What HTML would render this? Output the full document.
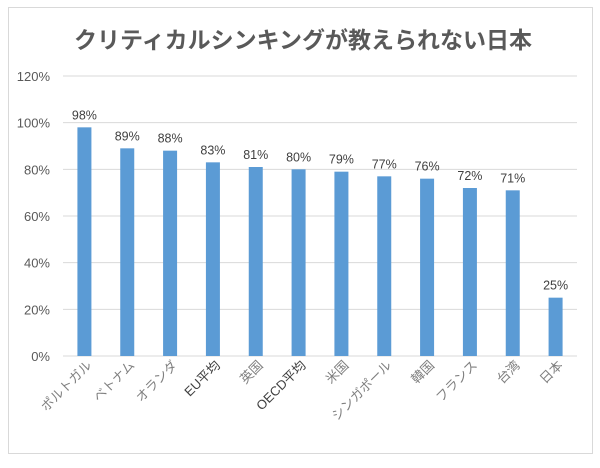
<!DOCTYPE html>
<html><head><meta charset="utf-8"><style>
body{margin:0;background:#fff}
svg text{font-family:"Liberation Sans","Noto Sans CJK JP",sans-serif}
</style></head><body>
<svg id="c" width="600" height="463">
<rect x="8.5" y="7.5" width="584" height="446" fill="#fff" stroke="#d9d9d9"/>
<text x="303" y="48" text-anchor="middle" font-size="23" fill="#595959" font-weight="bold">クリティカルシンキングが教えられない日本</text>
<g id="g"></g>
</svg>
<script>
const categories=["ポルトガル","ベトナム","オランダ","EU平均","英国","OECD平均","米国","シンガポール","韓国","フランス","台湾","日本"];
const values=[98,89,88,83,81,80,79,77,76,72,71,25];
const ticks=[0,20,40,60,80,100,120];
const NS="http://www.w3.org/2000/svg";
const g=document.getElementById("g");
const x0=63,x1=577,y0=356,y1=76,ymax=120;
const band=(x1-x0)/categories.length;
const y=v=>y0-(v/ymax)*(y0-y1);
const xc=i=>x0+band*(i+0.5);
function mk(t,a){const e=document.createElementNS(NS,t);for(const k in a)e.setAttribute(k,a[k]);g.appendChild(e);return e;}
ticks.forEach(t=>{
 const l=mk("line",{x1:x0,x2:x1,y1:y(t),y2:y(t),stroke:"#d9d9d9","stroke-width":1});
 
 
 const tx=mk("text",{x:50,y:y(t)+5,"text-anchor":"end","font-size":13,fill:"#595959"});
 tx.textContent=t+"%";
 
 
});
values.forEach((v,i)=>{
 const r=mk("rect",{x:xc(i)-7,y:y(v),width:14,height:y0-y(v),fill:"#5b9bd5"});
 
 
 const lb=mk("text",{x:xc(i),y:y(v)-8,"text-anchor":"middle","font-size":12.5,fill:"#404040"});
 lb.textContent=v+"%";
 
 
 const cx=xc(i)+8,cy=y0+10;
 const ct=mk("text",{x:cx,y:cy,"text-anchor":"end","font-size":13,fill:(categories[i].includes("平均")?"#404040":"#7f7f7f"),transform:`rotate(-45 ${cx} ${cy})`});
 ct.textContent=categories[i];
 
 
});
</script>
</body></html>
